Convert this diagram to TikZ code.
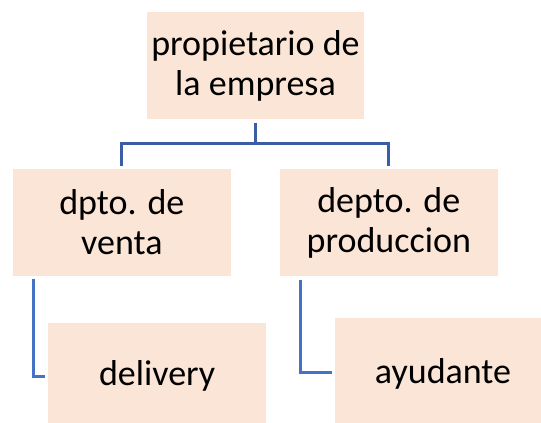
\documentclass[tikz,border=0pt]{standalone}
\usepackage{fontspec}
\setmainfont{Carlito}
\definecolor{boxfill}{HTML}{FBE5D6}
\definecolor{topline}{HTML}{3A5DA6}
\definecolor{subline}{HTML}{4472C4}
\begin{document}
\begin{tikzpicture}[x=1pt,y=-1pt,
  orgbox/.style={fill=boxfill, draw=none, inner sep=0pt, align=center,
    font=\fontsize{36}{39.7}\selectfont},
  onebox/.style={orgbox, text height=26pt, text depth=0pt},
  topconn/.style={draw=topline, line width=3pt},
  subconn/.style={draw=subline, line width=2.8pt}]
\useasboundingbox (0,0) rectangle (541,423);
\node[orgbox, minimum width=217.6pt, minimum height=107pt] (top) at (255.5,65.8) {propietario de\\la empresa};
\node[orgbox, minimum width=218.3pt, minimum height=106.7pt] (left) at (121.85,222.35) {dpto. de\\venta};
\node[orgbox, minimum width=217.7pt, minimum height=107pt] (right) at (388.85,222.5) {\rule{0pt}{26pt}depto. de\\produccion};
\node[onebox, minimum width=217.7pt, minimum height=100pt] (delivery) at (157.15,372.7) {delivery};
\node[onebox, minimum width=206pt, minimum height=104.4pt] (ayudante) at (438,370.5) {\hspace*{10pt}ayudante};
\coordinate (bus) at (255.5,143.8);
\draw[topconn] ([yshift=-3pt]top.south) -- (bus);
\draw[topconn] ([yshift=3pt]left.north) |- (bus) -| ([yshift=3pt]right.north);
\draw[subconn] ([xshift=20.6pt,yshift=-3.3pt]left.south west) |- ([xshift=-3.3pt,yshift=-4pt]delivery.west);
\draw[subconn] ([xshift=20.3pt,yshift=-3.3pt]right.south west) |- ([xshift=-2.7pt,yshift=-1.8pt]ayudante.west);
\end{tikzpicture}
\end{document}
